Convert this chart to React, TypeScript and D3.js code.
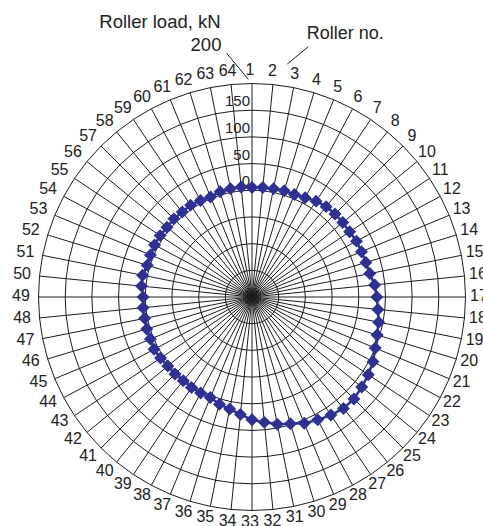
import React from 'react';
import * as d3 from 'd3';

// Roller numbers around the ring (clockwise from the top)
const rollerNos = [
  1, 2, 3, 4, 5, 6, 7, 8, 9, 10, 11, 12, 13, 14, 15, 16,
  17, 18, 19, 20, 21, 22, 23, 24, 25, 26, 27, 28, 29, 30, 31, 32,
  33, 34, 35, 36, 37, 38, 39, 40, 41, 42, 43, 44, 45, 46, 47, 48,
  49, 50, 51, 52, 53, 54, 55, 56, 57, 58, 59, 60, 61, 62, 63, 64,
];

// Load on each roller, kN
const rollerLoads = [
  5, 6, 7, 8, 8, 11, 16, 19, 20, 20, 20, 22, 22, 23, 25, 31,
  34, 37, 42, 45, 50, 57, 62, 66, 70, 70, 66, 61, 56, 48, 43, 36,
  30, 21, 14, 10, 4, 4, 4, 3, 4, 4, 6, 8, 6, 6, 5, 5,
  4, 8, 9, 5, 6, 7, 7, 6, 7, 6, 7, 5, 3, 6, 7, 7,
];

// Radial axis
const loadDomain = [-200, 200];
const ringValues = [-150, -100, -50, 0, 50, 100, 150, 200];
const tickLabels = [0, 50, 100, 150];
const topLabel = 200;

const W = 483;
const H = 526;
const cx = 252;
const cy = 297;
const outerR = 213.5;
const FONT = "'Liberation Sans', Arial, Helvetica, sans-serif";
const BLUE = '#2E3192';
const GRID = '#1c1c1c';

export default function App() {
  const angle = d3
    .scaleLinear()
    .domain([0, rollerNos.length])
    .range([0, 2 * Math.PI]);
  const radius = d3.scaleLinear().domain(loadDomain).range([0, outerR]);

  const polar = (a: number, r: number) => [r * Math.sin(a), -r * Math.cos(a)];

  const loadLine = d3
    .lineRadial<number>()
    .angle((_, i) => angle(i))
    .radius((d) => radius(d))
    .curve(d3.curveLinearClosed);

  const diamond = d3.symbol().type(d3.symbolSquare).size(84)() as string;

  // roller-number ring: slightly wider than tall, nudged up-left
  const labelRx = 229;
  const labelRy = 226;
  const labelDx = -2;
  const labelDy = -2;

  return (
    <svg
      width={W}
      height={H}
      style={{ position: 'absolute', left: 0, top: 0, background: '#fff' }}
      fontFamily={FONT}
    >
      <rect width={W} height={H} fill="#fff" />
      <g transform={`translate(${cx},${cy})`}>
        {/* concentric rings */}
        {ringValues.map((v) => (
          <circle
            key={`ring-${v}`}
            r={radius(v)}
            fill="none"
            stroke={GRID}
            strokeWidth={1}
          />
        ))}
        {/* spokes, one per roller */}
        {rollerNos.map((n, i) => {
          const [x, y] = polar(angle(i), outerR);
          return (
            <line
              key={`spoke-${n}`}
              x1={0}
              y1={0}
              x2={x}
              y2={y}
              stroke={GRID}
              strokeWidth={1}
            />
          );
        })}

        {/* roller numbers */}
        {rollerNos.map((n, i) => {
          const a = angle(i);
          const x = labelRx * Math.sin(a) + labelDx;
          const y = -labelRy * Math.cos(a) + labelDy;
          return (
            <text
              key={`lab-${n}`}
              x={x}
              y={y + 5.8}
              textAnchor="middle"
              fontSize={16}
              fill="#222"
            >
              {n}
            </text>
          );
        })}

        {/* radial tick labels */}
        {tickLabels.map((v) => (
          <text
            key={`tick-${v}`}
            x={-2}
            y={-radius(v) - 4}
            textAnchor="end"
            fontSize={15}
            fill="#222"
          >
            {v}
          </text>
        ))}

        {/* roller loads */}
        <path
          d={loadLine(rollerLoads) as string}
          fill="none"
          stroke={BLUE}
          strokeWidth={2.5}
        />
        {rollerLoads.map((v, i) => {
          const [x, y] = polar(angle(i), radius(v));
          return (
            <path
              key={`m-${i}`}
              d={diamond}
              transform={`translate(${x},${y}) rotate(45)`}
              fill={BLUE}
            />
          );
        })}
      </g>

      {/* axis captions with leader lines */}
      <text x={99.3} y={28.3} fontSize={18.5} fill="#222">
        Roller load, kN
      </text>
      <text x={206} y={50.7} fontSize={18.5} textAnchor="middle" fill="#222">
        {topLabel}
      </text>
      <line x1={226.7} y1={53.3} x2={248.3} y2={79.3} stroke={GRID} strokeWidth={1} />
      <text x={306.7} y={39.3} fontSize={18} fill="#222">
        Roller no.
      </text>
      <line x1={308.3} y1={46.7} x2={287.3} y2={64} stroke={GRID} strokeWidth={1} />
    </svg>
  );
}
